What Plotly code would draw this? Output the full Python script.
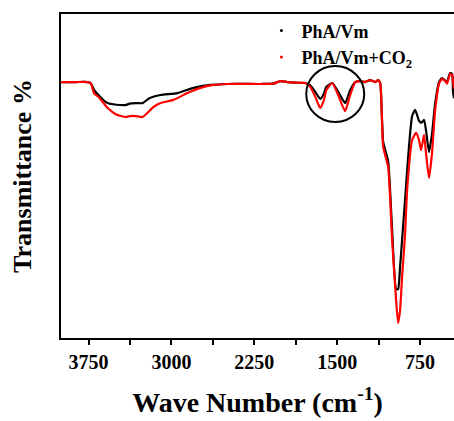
import plotly.graph_objects as go

# Wavenumbers (cm-1) and transmittance (arbitrary %)
wn_black = [4000, 3867, 3760, 3732, 3700, 3669, 3620, 3578, 3500, 3416, 3370, 3325, 3262, 3200,
            3099, 2946, 2801, 2648, 2494, 2196, 2078, 2015, 1952, 1880, 1789, 1744, 1699, 1654,
            1620, 1599, 1545, 1491, 1428, 1383, 1337, 1292, 1247, 1202, 1157, 1130, 1111, 1084,
            1039, 1003, 967, 949, 931, 913, 886, 858, 822, 795, 759, 741, 714, 696, 669, 642,
            615, 578, 551, 524, 506, 479, 460, 452, 443]
t_black = [79.0, 79.0, 79.0, 78.7, 76.5, 75.3, 73.5, 72.5, 72.0, 71.9, 72.4, 72.5, 72.5, 74.0,
           75.0, 75.6, 77.2, 78.1, 78.4, 78.4, 78.5, 79.3, 79.0, 78.8, 78.7, 78.0, 76.0, 73.8,
           75.5, 77.5, 78.7, 76.0, 72.5, 76.5, 79.0, 79.3, 79.0, 79.6, 79.0, 79.6, 78.7, 60.5,
           54.5, 33.3, 15.1, 15.1, 22.0, 30.2, 42.6, 55.9, 68.5, 70.4, 67.0, 66.4, 67.3, 64.0,
           57.4, 63.0, 72.0, 79.0, 80.2, 79.5, 79.0, 81.8, 81.5, 76.0, 74.0]

wn_red = [4000, 3867, 3760, 3732, 3700, 3660, 3578, 3500, 3416, 3370, 3325, 3262, 3163, 3099,
          2982, 2855, 2738, 2620, 2494, 2196, 2078, 2015, 1952, 1880, 1789, 1744, 1699, 1654,
          1620, 1599, 1545, 1491, 1428, 1383, 1337, 1292, 1247, 1202, 1157, 1130, 1111, 1084,
          1039, 1003, 967, 949, 931, 913, 886, 867, 822, 786, 759, 741, 714, 696, 669, 642,
          615, 578, 551, 524, 506, 479, 460, 452, 443]
t_red = [79.0, 79.0, 79.0, 78.7, 75.5, 74.4, 71.0, 69.0, 68.2, 68.5, 68.5, 68.2, 71.3, 72.5,
         73.5, 75.6, 77.2, 78.1, 78.4, 78.4, 78.5, 79.3, 79.0, 78.8, 78.7, 77.5, 74.5, 71.0,
         73.5, 76.5, 78.7, 75.0, 70.0, 75.0, 79.0, 79.3, 79.0, 79.6, 79.0, 79.6, 78.7, 59.0,
         52.8, 30.2, 11.7, 4.6, 8.6, 18.8, 32.0, 45.7, 61.1, 63.3, 61.0, 58.0, 62.7, 57.0,
         49.4, 57.0, 69.8, 78.5, 80.0, 79.3, 78.5, 81.5, 81.2, 79.0, 77.0]

names = ["PhA/Vm", "PhA/Vm+CO<sub>2</sub>"]
colors = ["#000000", "#ff0000"]

major_ticks = [3750, 3000, 2250, 1500, 750]
minor_ticks = [3375, 2625, 1875, 1125]

# highlighted region (circle) centre in data units
circle_wn, circle_t = 1518, 75.3

FONT = "Liberation Serif, Times New Roman, serif"

fig = go.Figure()
for wn, t, c in [(wn_black, t_black, colors[0]), (wn_red, t_red, colors[1])]:
    fig.add_trace(go.Scatter(x=wn, y=t, mode="lines",
                             line=dict(color=c, width=2.2, shape="spline", smoothing=0.5),
                             showlegend=False, hoverinfo="skip"))
for n, c in zip(names, colors):
    fig.add_trace(go.Scatter(x=[None], y=[None], mode="markers", name=f"<b>{n}</b>",
                             marker=dict(color=c, size=3)))

fig.add_shape(type="circle", xref="x", yref="y", xsizemode="pixel", ysizemode="pixel",
              xanchor=circle_wn, yanchor=circle_t, x0=-29, x1=29, y0=-28, y1=28,
              line=dict(color="black", width=2))

fig.update_layout(
    width=454, height=421,
    margin=dict(l=61, r=0, t=14, b=83),
    paper_bgcolor="white", plot_bgcolor="white",
    font=dict(family=FONT, color="black"),
    legend=dict(x=0.51, y=1.005, xanchor="left", yanchor="top",
                font=dict(size=18, family=FONT), bgcolor="rgba(0,0,0,0)",
                itemwidth=30, tracegroupgap=0),
)
fig.update_xaxes(
    range=[4000, 443], showgrid=False, zeroline=False,
    showline=True, linecolor="black", linewidth=2, mirror=True,
    ticks="outside", ticklen=5, tickwidth=2, tickcolor="black",
    tickvals=major_ticks, ticktext=[f"<b>{v}</b>" for v in major_ticks],
    minor=dict(tickvals=minor_ticks, ticks="outside", ticklen=5, tickwidth=2,
               tickcolor="black", showgrid=False),
    tickfont=dict(size=20, family=FONT),
    title=dict(text="<b>Wave Number (cm<sup>-1</sup>)</b>", font=dict(size=28, family=FONT),
               standoff=20),
)
fig.update_yaxes(
    range=[0, 100], showgrid=False, zeroline=False,
    showline=True, linecolor="black", linewidth=2, mirror=False,
    showticklabels=False, ticks="",
    title=dict(text="<b>Transmittance %</b>", font=dict(size=26, family=FONT), standoff=20),
)

fig.write_html("out.html")
